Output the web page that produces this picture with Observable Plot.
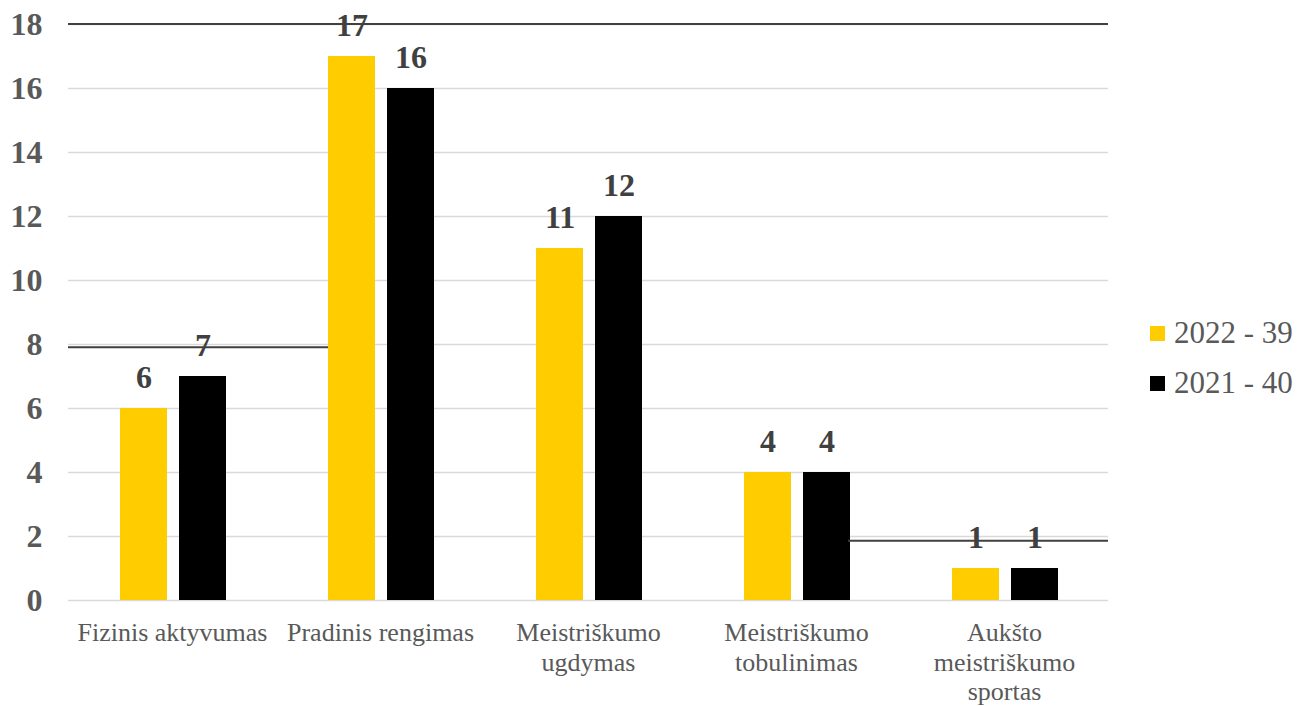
<!DOCTYPE html>
<html><head><meta charset="utf-8">
<script src="https://cdn.jsdelivr.net/npm/d3@7"></script>
<script src="https://cdn.jsdelivr.net/npm/@observablehq/plot@0.6"></script>
<style>
body{margin:0;background:#fff;font-family:"Liberation Serif","Times New Roman",serif;}
#wrap{position:relative;width:1315px;height:706px;overflow:hidden;}
#chart{position:absolute;left:0;top:0;}
#legend{position:absolute;left:1150px;top:308px;font-family:"Liberation Serif","Times New Roman",serif;font-size:31px;color:#595959;}
.item{display:flex;align-items:center;height:50px;}
.sw{width:15px;height:15px;margin-right:9px;flex:none;}
</style></head><body>
<div id="wrap"><div id="chart"></div><div id="legend"></div></div>
<script>
const categories = ["Fizinis aktyvumas","Pradinis rengimas","Meistriškumo ugdymas","Meistriškumo tobulinimas","Aukšto meistriškumo sportas"];
const categoryLabels = ["Fizinis aktyvumas","Pradinis rengimas","Meistriškumo\nugdymas","Meistriškumo\ntobulinimas","Aukšto\nmeistriškumo\nsportas"];
const series = ["2022 - 39","2021 - 40"];
const values2022 = [6,17,11,4,1];
const values2021 = [7,16,12,4,1];
const seriesColors = ["#FFCC00","#000000"];
const yTicks = [0,2,4,6,8,10,12,14,16,18];
// dark overlay lines seen in the reference (value, from band, to band)
const overlayValues = [18, 7.9, 1.85];
const overlayFrom = [0, 0, 3.75];
const overlayTo = [5, 1.25, 5];

const data2022 = categories.map((c,i)=>({category:c, value:values2022[i]}));
const data2021 = categories.map((c,i)=>({category:c, value:values2021[i]}));
const overlay = overlayValues.map((v,i)=>({y:v, from:overlayFrom[i], to:overlayTo[i]}));

const labelFont = {fontSize:32, fontWeight:"bold", fill:"#404040", lineAnchor:"bottom", dy:-21};

const chart = Plot.plot({
  width:1130, height:706,
  marginLeft:68, marginRight:22, marginTop:24, marginBottom:106,
  style:{fontFamily:"'Liberation Serif','Times New Roman',serif", background:"#fff"},
  x:{type:"band", domain:categories, padding:0, label:null},
  y:{domain:[0,18], label:null},
  marks:[
    Plot.gridY(yTicks, {stroke:"#d9d9d9", strokeOpacity:1, strokeWidth:1.5}),
    Plot.barY(data2022, {x:"category", y:"value", fill:seriesColors[0], insetLeft:52, insetRight:109}),
    Plot.barY(data2021, {x:"category", y:"value", fill:seriesColors[1], insetLeft:111, insetRight:50}),
    Plot.ruleY(overlay, {y:"y", render(index, scales, values, dimensions) {
      const x = scales.x, y = scales.y;
      const x0 = x(categories[0]), bw = x(categories[1]) - x(categories[0]);
      const g = d3.create("svg:g");
      for (const i of index) {
        const d = overlay[i];
        g.append("line")
          .attr("x1", x0 + d.from*bw).attr("x2", x0 + d.to*bw)
          .attr("y1", y(d.y)).attr("y2", y(d.y))
          .attr("stroke", "#404040").attr("stroke-width", 2);
      }
      return g.node();
    }}),
    Plot.text(data2022, {x:"category", y:"value", text:d=>String(d.value), dx:-28.5, ...labelFont}),
    Plot.text(data2021, {x:"category", y:"value", text:d=>String(d.value), dx:30.5, ...labelFont}),
    Plot.axisY({ticks:yTicks, tickSize:0, tickPadding:26, fontSize:32, fontWeight:"bold", fill:"#595959", label:null}),
    Plot.axisX({tickSize:0, tickPadding:20, fontSize:26, fill:"#595959", lineHeight:1.13, label:null,
      tickFormat:d=>categoryLabels[categories.indexOf(d)]})
  ]
});
document.getElementById("chart").appendChild(chart);

const legend = document.getElementById("legend");
series.forEach((s,i)=>{
  const it = document.createElement("div"); it.className="item";
  const sw = document.createElement("div"); sw.className="sw"; sw.style.background=seriesColors[i];
  const t = document.createElement("span"); t.textContent=s;
  it.appendChild(sw); it.appendChild(t); legend.appendChild(it);
});
</script>
</body></html>
